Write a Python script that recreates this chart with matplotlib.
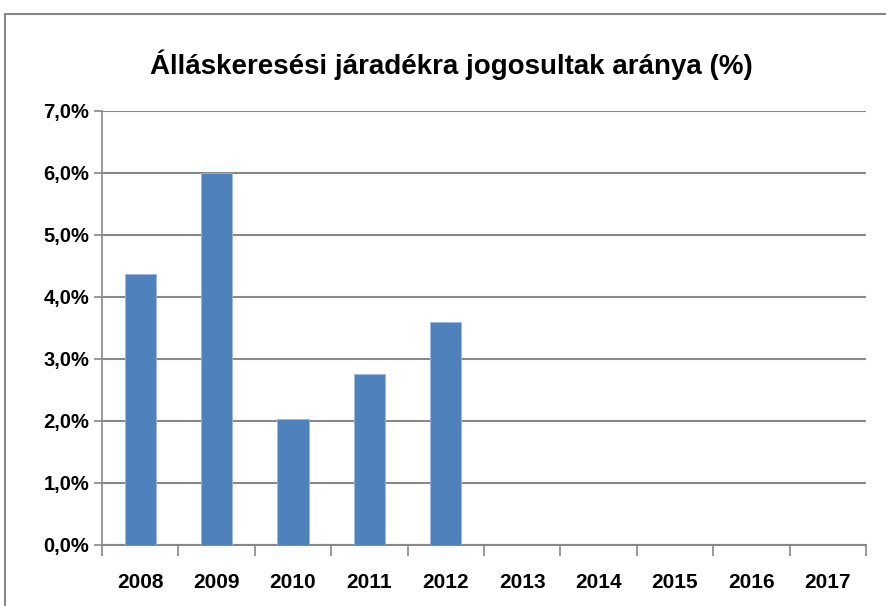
import matplotlib
matplotlib.use("Agg")
import matplotlib.pyplot as plt
from matplotlib.patches import Rectangle
import numpy as np

years = ["2008", "2009", "2010", "2011", "2012", "2013", "2014", "2015", "2016", "2017"]
values = [4.37, 6.0, 2.03, 2.76, 3.59, 0, 0, 0, 0, 0]
yticks = [0, 1, 2, 3, 4, 5, 6, 7]
ytick_labels = ["0,0%", "1,0%", "2,0%", "3,0%", "4,0%", "5,0%", "6,0%", "7,0%"]
title = "Álláskeresési járadékra jogosultak aránya (%)"

plt.rcParams['font.family'] = ['Liberation Sans', 'DejaVu Sans']

fig = plt.figure(figsize=(8.86, 6.06), dpi=100)
ax = fig.add_axes([0.1151, 0.1007, 0.8623, 0.7166])

x = np.arange(len(years))
ax.bar(x, values, width=0.41, color="#4F81BD", edgecolor="#9DB9DE", linewidth=0.6, zorder=3)

ax.set_xlim(-0.5, len(years) - 0.5)
ax.set_ylim(0, 7)
ax.set_yticks(yticks)
ax.set_yticklabels(ytick_labels, fontsize=14.5, fontweight='bold')
ax.set_xticks(x)
ax.set_xticklabels(years, fontsize=15, fontweight='bold')
ax.tick_params(axis='x', length=0, pad=20)
ax.set_xticks(np.arange(-0.5, len(years), 1), minor=True)
ax.tick_params(axis='x', which='minor', length=8, width=1.2, color="#888888", direction='out')
ax.tick_params(axis='y', length=6, width=1.2, color="#888888", pad=3)

ax.grid(axis='y', color="#888888", linewidth=1.5, zorder=0)
for s in ['top', 'right']:
    ax.spines[s].set_visible(False)
ax.spines['left'].set_color("#888888")
ax.spines['left'].set_linewidth(1.2)
ax.spines['bottom'].set_color("#888888")
ax.spines['bottom'].set_linewidth(1.5)

fig.text(0.509, 0.893, title, ha='center', va='center', fontsize=20, fontweight='bold')

fig.patches.append(Rectangle((5/886, -0.01), 2.0, 1 - 14/606 + 0.01, transform=fig.transFigure,
                             fill=False, edgecolor="#888888", linewidth=1.5))

fig.savefig("out.png", dpi=100)
